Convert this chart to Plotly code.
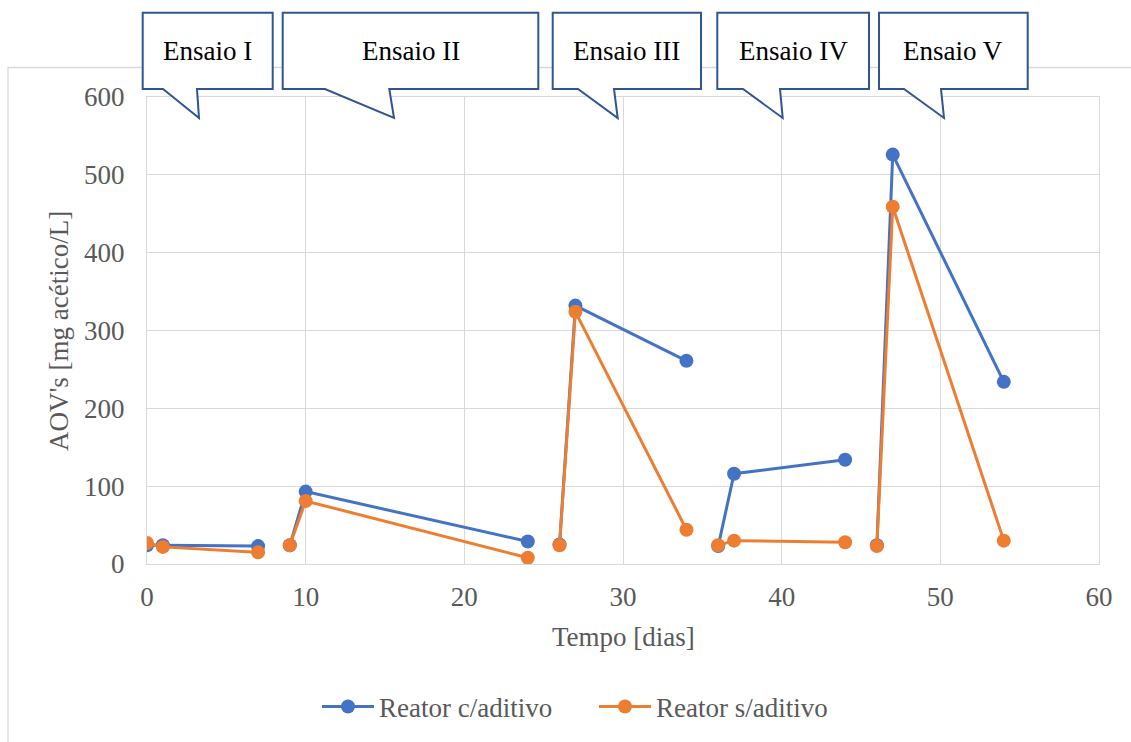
import plotly.graph_objects as go

# ---- data ----
dias = [0, 1, 7, None, 9, 10, 24, None, 26, 27, 34, None, 36, 37, 44, None, 46, 47, 54]
com_aditivo = [24, 24, 23, None, 24, 93, 29, None, 25, 332, 261, None, 23, 116, 134, None, 24, 526, 234]
sem_aditivo = [27, 22, 15, None, 24, 81, 8, None, 24, 324, 44, None, 24, 30, 28, None, 23, 459, 30]
series_names = ["Reator c/aditivo", "Reator s/aditivo"]
ensaios = ["Ensaio I", "Ensaio II", "Ensaio III", "Ensaio IV", "Ensaio V"]
x_ticks = [0, 10, 20, 30, 40, 50, 60]
y_ticks = [0, 100, 200, 300, 400, 500, 600]

# ---- layout geometry (pixels) ----
W, H = 1131, 742
L, R, T, B = 147, 32, 97, 178
PW, PH = W - L - R, H - T - B


def px(x):
    return (x - L) / PW


def py(y):
    return (H - B - y) / PH


FONT = "Liberation Serif"
GRID = "#d9d9d9"
TXT = "#595959"

fig = go.Figure()
fig.add_trace(go.Scatter(x=dias, y=com_aditivo, name=series_names[0], mode="lines+markers",
                         line=dict(color="#4472C4", width=3),
                         marker=dict(color="#4472C4", size=14), connectgaps=False))
fig.add_trace(go.Scatter(x=dias, y=sem_aditivo, name=series_names[1], mode="lines+markers",
                         line=dict(color="#ED7D31", width=3),
                         marker=dict(color="#ED7D31", size=14), connectgaps=False))

shapes = []
annotations = []

# chart-area border (left and top visible)
shapes.append(dict(type="path", xref="paper", yref="paper", layer="below",
                   path=f"M {px(8)},{py(780)} L {px(8)},{py(67.5)} L {px(1150)},{py(67.5)}",
                   line=dict(color=GRID, width=1.3)))

# callouts: left, right, tail start, tip x, tail end (pixels)
boxes = [
    (142.7, 272.7, 163, 199, 197),
    (282.7, 538.3, 325, 394, 389.3),
    (552.7, 701, 578, 617.7, 614),
    (717.3, 869, 743, 782.7, 780),
    (879, 1027.7, 904, 944, 941),
]
top, bot, tipy = 12.7, 89, 118
for (lft, rgt, ts, tx, te), label in zip(boxes, ensaios):
    path = (f"M {px(lft)},{py(top)} L {px(rgt)},{py(top)} L {px(rgt)},{py(bot)} "
            f"L {px(te)},{py(bot)} L {px(tx)},{py(tipy)} L {px(ts)},{py(bot)} "
            f"L {px(lft)},{py(bot)} Z")
    shapes.append(dict(type="path", xref="paper", yref="paper", layer="above", path=path,
                       fillcolor="white", line=dict(color="#2F5597", width=2)))
    annotations.append(dict(xref="paper", yref="paper", x=px((lft + rgt) / 2), y=py(51.5),
                            text=label, showarrow=False, xanchor="center", yanchor="middle",
                            font=dict(family=FONT, size=27, color="black")))

# axis titles
annotations.append(dict(xref="paper", yref="paper", x=px(623), y=py(637), text="Tempo [dias]",
                        showarrow=False, xanchor="center", yanchor="middle",
                        font=dict(family=FONT, size=27, color=TXT)))
annotations.append(dict(xref="paper", yref="paper", x=px(59), y=py(331),
                        text="AOV's [mg acético/L]", textangle=-90,
                        showarrow=False, xanchor="center", yanchor="middle",
                        font=dict(family=FONT, size=27, color=TXT)))

fig.update_layout(
    width=W, height=H,
    margin=dict(l=L, r=R, t=T, b=B, autoexpand=False),
    paper_bgcolor="white", plot_bgcolor="white",
    font=dict(family=FONT, size=27, color=TXT),
    shapes=shapes, annotations=annotations,
    showlegend=True,
    legend=dict(orientation="h", x=px(594), xanchor="center", y=py(707), yanchor="middle",
                font=dict(family=FONT, size=27, color=TXT), itemwidth=52,
                entrywidth=210, bgcolor="rgba(0,0,0,0)"),
    xaxis=dict(range=[0, 60], tickvals=x_ticks, showgrid=True, gridcolor=GRID, gridwidth=1.3,
               zeroline=False, showline=True, linecolor=GRID, linewidth=1.3, mirror=True,
               ticks="", ticklabelstandoff=8, tickfont=dict(family=FONT, size=27, color=TXT)),
    yaxis=dict(range=[0, 600], tickvals=y_ticks, showgrid=True, gridcolor=GRID, gridwidth=1.3,
               zeroline=False, showline=True, linecolor=GRID, linewidth=1.3, mirror=True,
               ticks="", ticklabelstandoff=16, tickfont=dict(family=FONT, size=27, color=TXT)),
)

fig.write_html("out.html")
